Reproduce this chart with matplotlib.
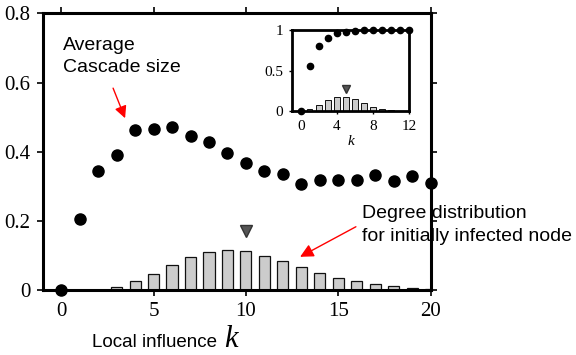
import numpy as np
import matplotlib
matplotlib.use('Agg')
import matplotlib.pyplot as plt

# main panel data
k_main = list(range(21))
cascade_size = [0.0, 0.205, 0.344, 0.39, 0.463, 0.467, 0.473, 0.445, 0.429, 0.397,
                0.368, 0.344, 0.336, 0.308, 0.317, 0.319, 0.317, 0.333, 0.315, 0.330, 0.309]
degree_dist = [0.0, 0.0, 0.0, 0.01, 0.026, 0.046, 0.072, 0.095, 0.11, 0.115,
               0.112, 0.099, 0.083, 0.066, 0.05, 0.036, 0.025, 0.017, 0.011, 0.007, 0.003]
mean_degree = 10
mean_marker_y = 0.17

# inset data
k_inset = list(range(13))
cascade_inset = [0.0, 0.56, 0.80, 0.90, 0.955, 0.97, 0.99, 0.995, 0.995, 1.0, 1.0, 1.0, 1.0]
degree_inset = [0.0, 0.03, 0.08, 0.14, 0.17, 0.17, 0.15, 0.10, 0.056, 0.03, 0.01, 0.004, 0.0]
mean_inset = 5
mean_inset_y = 0.27

serif = 'Liberation Serif'
sans = 'Liberation Sans'

fig = plt.figure(figsize=(5.76, 3.55), dpi=100, facecolor='w')
ax = fig.add_axes([0.0741, 0.1831, 0.6737, 0.7789])

ax.bar(k_main, degree_dist, width=0.6, color='#cccccc', edgecolor='#111111', linewidth=0.9, zorder=2)
ax.plot(k_main, cascade_size, 'o', color='black', markersize=8, clip_on=False, zorder=4)
ax.plot([mean_degree], [mean_marker_y], 'v', color='#555555', markeredgecolor='#333333', markersize=8, zorder=3)

ax.set_xlim(-1, 20)
ax.set_ylim(0, 0.8)
ax.set_xticks([0, 5, 10, 15, 20])
ax.set_yticks([0, 0.2, 0.4, 0.6, 0.8])
ax.set_yticklabels(['0', '0.2', '0.4', '0.6', '0.8'])
for s in ax.spines.values():
    s.set_linewidth(2.2)
ax.tick_params(direction='out', length=4, width=1.2, pad=5, top=True, right=True,
               labelsize=15)
for lab in ax.get_xticklabels() + ax.get_yticklabels():
    lab.set_family(serif)

ax.text(0.1, 0.732, 'Average\nCascade size', family=sans, fontsize=14, va='top', ha='left',
        linespacing=1.4)
ax.annotate('', xy=(3.46, 0.497), xytext=(2.81, 0.584),
            arrowprops=dict(arrowstyle='-|>', color='red', lw=1.0, mutation_scale=18,
                            shrinkA=0, shrinkB=0))
ax.text(16.28, 0.245, 'Degree distribution\nfor initially infected node', family=sans,
        fontsize=14, va='top', ha='left', linespacing=1.4, clip_on=False)
ax.annotate('', xy=(12.93, 0.096), xytext=(15.95, 0.183),
            arrowprops=dict(arrowstyle='-|>', color='red', lw=1.0, mutation_scale=20,
                            shrinkA=0, shrinkB=0))

fig.text(92 / 576, 1 - 347 / 355, 'Local influence', family=sans, fontsize=13.5, ha='left', va='baseline')
fig.text(224 / 576, 1 - 347 / 355, 'k', family=serif, style='italic', fontsize=22, ha='left', va='baseline')

# inset
ins = fig.add_axes([0.5064, 0.6865, 0.2042, 0.2298])
ins.bar(k_inset, degree_inset, width=0.6, color='#cccccc', edgecolor='#111111', linewidth=0.7, zorder=2)
ins.plot(k_inset, cascade_inset, 'o', color='black', markersize=4.5, clip_on=False, zorder=4)
ins.plot([mean_inset], [mean_inset_y], 'v', color='#555555', markeredgecolor='#333333', markersize=6, zorder=3)
ins.set_xlim(-1, 12)
ins.set_ylim(0, 1)
ins.set_xticks([0, 4, 8, 12])
ins.set_yticks([0, 0.5, 1])
ins.set_yticklabels(['0', '0.5', '1'])
for s in ins.spines.values():
    s.set_linewidth(2.0)
ins.tick_params(direction='out', length=2, width=1, pad=4, labelsize=11)
for lab in ins.get_xticklabels() + ins.get_yticklabels():
    lab.set_family(serif)
ins.set_xlabel('k', family=serif, style='italic', fontsize=11, labelpad=2)

fig.savefig('out.png', dpi=100)
plt.close(fig)
